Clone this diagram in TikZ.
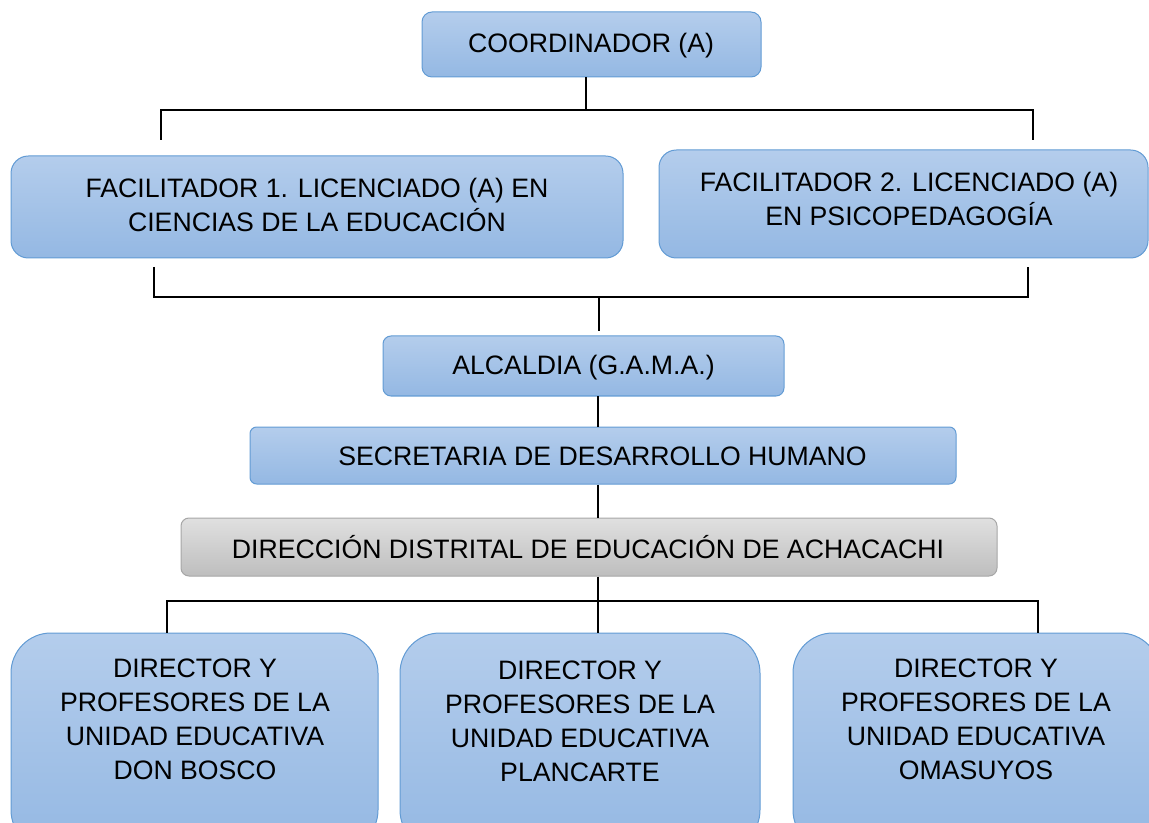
\documentclass[tikz,border=0pt]{standalone}
\usepackage{fontspec}
\setmainfont{Liberation Sans}
\usetikzlibrary{fit}
\definecolor{boxblue}{RGB}{98,155,212}
\definecolor{topblue}{RGB}{180,205,236}
\definecolor{botblue}{RGB}{148,184,227}
\definecolor{boxgray}{RGB}{166,166,166}
\definecolor{topgray}{RGB}{224,224,224}
\definecolor{botgray}{RGB}{190,190,190}
\tikzset{
  bluebox/.style={draw=boxblue, line width=0.75pt, top color=topblue, bottom color=botblue, inner sep=0pt, rounded corners=#1},
  graybox/.style={draw=boxgray, line width=0.75pt, top color=topgray, bottom color=botgray, inner sep=0pt, rounded corners=#1},
  lbl/.style={align=center, font=\fontsize{20}{25.5}\selectfont, inner sep=0pt},
  conn/.style={draw=black, line width=0.8pt}
}
\begin{document}
\begin{tikzpicture}[x=0.75pt, y=-0.75pt]
\useasboundingbox (0,0) rectangle (1149,823);
% boxes
\node[bluebox=7.5pt, fit={(422,12)(761,77)}] (coord) {};
\node[bluebox=13pt, fit={(11,156)(623,258)}] (fac1) {};
\node[bluebox=13pt, fit={(659,150)(1148,258)}] (fac2) {};
\node[bluebox=6pt, fit={(383,336)(784,396)}] (alc) {};
\node[bluebox=5pt, fit={(250,427)(956,484)}] (sec) {};
\node[graybox=6pt, fit={(181,518)(997,576)}] (dir) {};
\node[bluebox=30pt, fit={(11,633)(378,850)}] (ue1) {};
\node[bluebox=30pt, fit={(400,633)(760,850)}] (ue2) {};
\node[bluebox=30pt, fit={(793,633)(1160,850)}] (ue3) {};
% labels
\node[lbl] (tcoord) at (591,46) {COORDINADOR (A)};
\node[lbl] (tfac1) at (317,205) {FACILITADOR 1. LICENCIADO (A) EN\\CIENCIAS DE LA EDUCACIÓN};
\node[lbl] (tfac2) at (909,199) {FACILITADOR 2. LICENCIADO (A)\\EN PSICOPEDAGOGÍA};
\node[lbl] (talc) at (583.5,368) {ALCALDIA (G.A.M.A.)};
\node[lbl] (tsec) at (602.5,456) {SECRETARIA DE DESARROLLO HUMANO};
\node[lbl] (tdir) at (588,547) {DIRECCIÓN DISTRITAL DE EDUCACIÓN DE ACHACACHI};
\node[lbl] (tue1) at (195,719) {DIRECTOR Y\\PROFESORES DE LA\\UNIDAD EDUCATIVA\\DON BOSCO};
\node[lbl] (tue2) at (580,721) {DIRECTOR Y\\PROFESORES DE LA\\UNIDAD EDUCATIVA\\PLANCARTE};
\node[lbl] (tue3) at (976,719) {DIRECTOR Y\\PROFESORES DE LA\\UNIDAD EDUCATIVA\\OMASUYOS};
% junction coordinates
\coordinate (j1) at (586,110);
\coordinate (j1l) at (161,110);
\coordinate (j1r) at (1033,110);
\coordinate (e1l) at (161,140);
\coordinate (e1r) at (1033,140);
\coordinate (j2) at (599,297);
\coordinate (j2l) at (154,297);
\coordinate (j2r) at (1028,297);
\coordinate (s2l) at (154,267);
\coordinate (s2r) at (1028,267);
\coordinate (e2) at (599,331);
\coordinate (j3) at (598,601);
\coordinate (j3l) at (167,601);
\coordinate (j3r) at (1038,601);
% connectors
\draw[conn] (coord.south -| j1) -- (j1);
\draw[conn] (e1l) -- (j1l) -- (j1r) -- (e1r);
\draw[conn] (s2l) -- (j2l) -- (j2r) -- (s2r);
\draw[conn] (j2) -- (e2);
\draw[conn] (alc.south -| j3) -- (sec.north -| j3);
\draw[conn] (sec.south -| j3) -- (dir.north -| j3);
\draw[conn] (dir.south -| j3) -- (ue2.north -| j3);
\draw[conn] (ue1.north -| j3l) -- (j3l) -- (j3r) -- (ue3.north -| j3r);
\end{tikzpicture}
\end{document}
